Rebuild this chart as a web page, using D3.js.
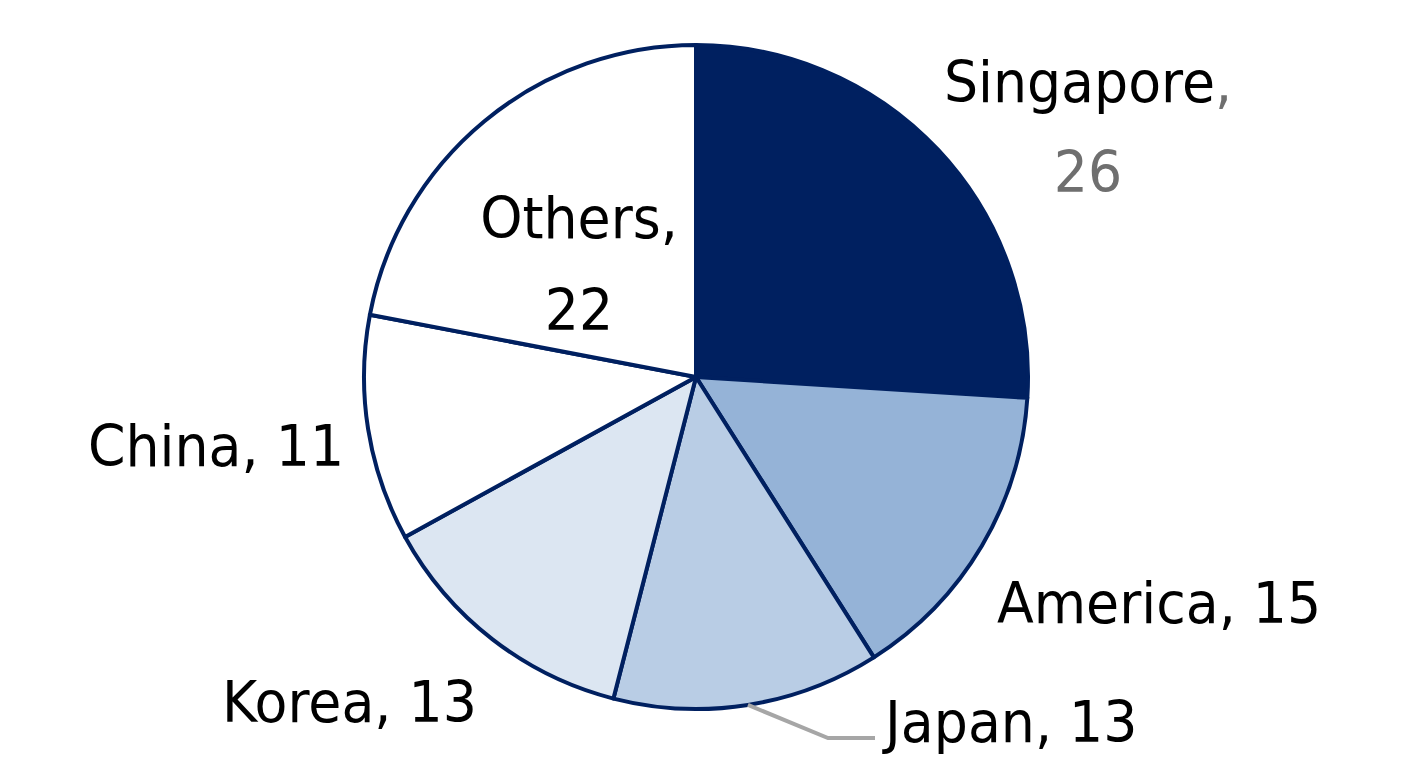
<!DOCTYPE html>
<html>
<head>
<meta charset="utf-8">
<script src="https://cdn.jsdelivr.net/npm/d3@7"></script>
<style>
  html, body { margin: 0; padding: 0; background: #fff; }
  svg { display: block; }
</style>
</head>
<body>
<svg id="chart" width="1420" height="780"></svg>
<script>
const categories = ["Singapore", "America", "Japan", "Korea", "China", "Others"];
const values = [26, 15, 13, 13, 11, 22];
const fills = ["#002060", "#95B3D7", "#B9CDE5", "#DCE6F2", "#FFFFFF", "#FFFFFF"];

const W = 1420, H = 780;
const cx = 696, cy = 377, R = 332;
const stroke = "#002060";
const fontSize = 56, sx = 0.96;

const svg = d3.select("#chart");
const g = svg.append("g").attr("transform", `translate(${cx},${cy})`);

const pie = d3.pie().sort(null).value(d => d.v).startAngle(0).endAngle(2 * Math.PI);
const data = categories.map((c, i) => ({ c, v: values[i], f: fills[i] }));
const arcs = pie(data);
const arc = d3.arc().innerRadius(0).outerRadius(R);

g.selectAll("path.slice").data(arcs).join("path")
  .attr("class", "slice")
  .attr("d", arc)
  .attr("fill", d => d.data.f)
  .attr("stroke", stroke)
  .attr("stroke-width", 4)
  .attr("stroke-linejoin", "round");

// label layout (offsets from pie centre)
const layout = {
  Singapore: { dx: 392, dy: -275, anchor: "middle", twoLine: true, gap: 90 },
  America:   { dx: 301, dy: 246, anchor: "start" },
  Japan:     { dx: 189, dy: 365, anchor: "start", leader: true },
  Korea:     { dx: -474, dy: 345, anchor: "start" },
  China:     { dx: -608, dy: 89, anchor: "start" },
  Others:    { dx: -117, dy: -139, anchor: "middle", twoLine: true, gap: 92 }
};

function addText(x, y, anchor) {
  return g.append("text")
    .attr("transform", `translate(${x},${y}) scale(${sx},1)`)
    .attr("text-anchor", anchor)
    .attr("font-family", "'DejaVu Sans', Verdana, sans-serif")
    .attr("font-size", fontSize)
    .attr("fill", "#000");
}

arcs.forEach(a => {
  const name = a.data.c;
  const L = layout[name];
  const gray = name === "Singapore";
  const col = gray ? "#6f6f6f" : "#000";
  if (L.twoLine) {
    const t1 = addText(L.dx, L.dy, L.anchor);
    t1.append("tspan").attr("fill", "#000").text(name);
    t1.append("tspan").attr("fill", col).text(",");
    addText(L.dx, L.dy + L.gap, L.anchor).attr("fill", col).text(a.data.v);
  } else {
    addText(L.dx, L.dy, L.anchor).text(`${name}, ${a.data.v}`);
  }
  if (L.leader) {
    const mid = (a.startAngle + a.endAngle) / 2;
    const p0 = [R * Math.sin(mid), -R * Math.cos(mid)];
    const yL = L.dy - 4;
    const p1 = [L.dx - 57, yL];
    const p2 = [L.dx - 10, yL];
    g.append("path")
      .attr("d", d3.line()([p0, p1, p2]))
      .attr("fill", "none")
      .attr("stroke", "#A6A6A6")
      .attr("stroke-width", 4);
  }
});
</script>
</body>
</html>
